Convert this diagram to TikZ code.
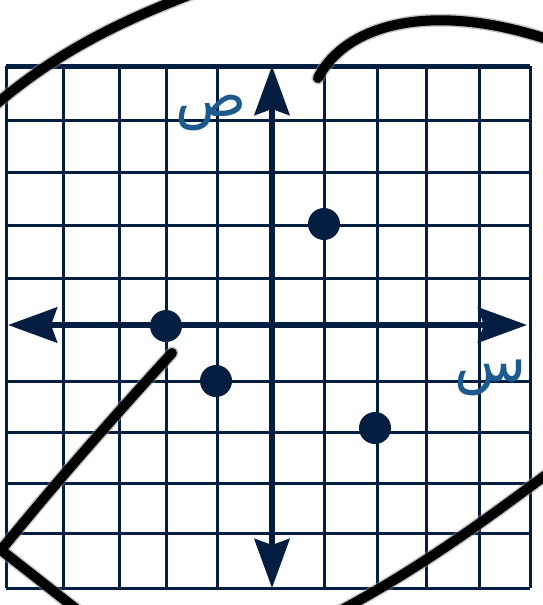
\documentclass[tikz,border=0pt]{standalone}
\usepackage{fontspec}
\usetikzlibrary{arrows.meta}
\TeXXeTstate=1
\newfontfamily\arabicfont[Script=Arabic]{DejaVu Sans}
\definecolor{navy}{RGB}{4,30,66}
\definecolor{lblue}{RGB}{28,90,142}
\tikzset{
  gridline/.style={draw=navy, line width=3pt},
  axisline/.style={draw=navy, line width=6pt, -{Stealth[length=49pt, width=35pt, inset=6pt]}},
  dotpt/.style={circle, fill=navy, inner sep=0pt, minimum size=32pt},
  axlabel/.style={text=lblue, font=\arabicfont\fontsize{59}{59}\selectfont, inner sep=0pt},
  scribble/.style={draw=black, line width=10pt, line cap=round, line join=round},
  scribblehalo/.style={draw=black!45, opacity=0.5, line width=13pt, line cap=round, line join=round}
}
\begin{document}
\begin{tikzpicture}[x=1pt, y=-1pt]
\useasboundingbox (0,0) rectangle (543,605);
% grid
\foreach \gx in {6,63,119,166,217,324,377,426,479,530}
  \draw[gridline] (\gx,66) -- (\gx,588);
\foreach \gy in {66,120,172,225,278,381,432,483,533,588}
  \draw[gridline] (6,\gy) -- (530,\gy);
\draw[draw=navy, line width=5pt] (6,66) -- (530,66);
% axes
\coordinate (xl) at (8,325);
\coordinate (xr) at (527,325);
\coordinate (yt) at (272,66);
\coordinate (yb) at (272,588);
\coordinate (o) at (272,325);
\draw[axisline] (o) -- (xl);
\draw[axisline] (o) -- (xr);
\draw[axisline] (o) -- (yt);
\draw[axisline] (o) -- (yb);
% points
\node[dotpt] (p1) at (324,224) {};
\node[dotpt] (p2) at (166,326) {};
\node[dotpt] (p3) at (216,381) {};
\node[dotpt] (p4) at (375,428) {};
% labels
\node[axlabel] (ly) at (211,113) {\beginR ص\endR};
\node[axlabel] (lx) at (491,378) {\beginR س\endR};
% scribbles
\foreach \s in {scribblehalo,scribble}{
\draw[\s] (-6,106) .. controls (50,58) and (110,25) .. (192,-6);
\draw[\s] (318,78) .. controls (345,25) and (430,0) .. (550,40);
\draw[\s] (172,353) .. controls (117,413) and (58,480) .. (1,550) -- (80,612);
\draw[\s] (550,472) .. controls (485,520) and (425,565) .. (338,612);
}
\end{tikzpicture}
\end{document}
